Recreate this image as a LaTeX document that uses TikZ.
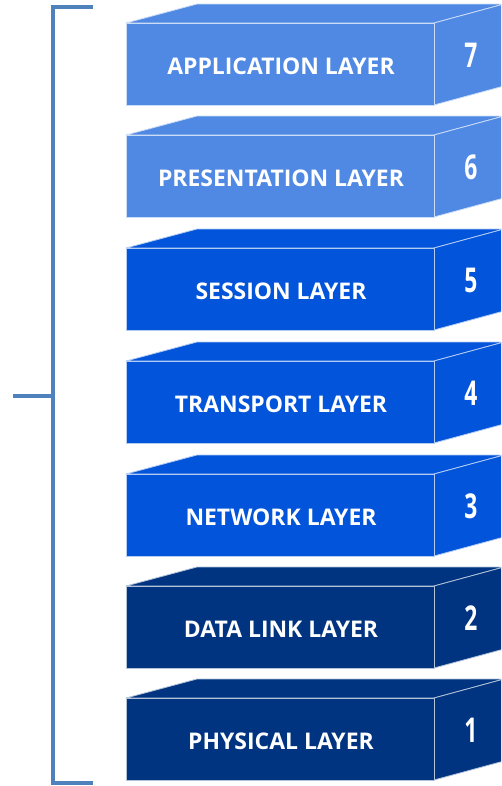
\documentclass[tikz,border=0pt]{standalone}
\usepackage{fontspec}
\setmainfont{Open Sans}

\definecolor{layerlight}{RGB}{80,137,228}
\definecolor{layermid}{RGB}{2,84,218}
\definecolor{layerdark}{RGB}{0,52,128}
\definecolor{bracketblue}{RGB}{79,129,189}

\tikzset{
  layerface/.style={fill=#1, draw=white!70!#1, line width=0.6pt, line join=round},
  layerlabel/.style={text=white, font=\bfseries\fontsize{17.2}{20}\selectfont},
  layernum/.style={text=white, font=\bfseries\fontsize{19}{22}\selectfont},
  bracket/.style={draw=bracketblue, line width=2.8pt}
}

\begin{document}
\begin{tikzpicture}[x=0.75pt, y=-0.75pt]
    \useasboundingbox (0,0) rectangle (501,786);
    \clip (0,0) rectangle (501,786);

    % Bracket on the left
    \coordinate (bracket top) at (93,7);
    \coordinate (bracket bottom) at (93,783);
    \coordinate (bracket tick) at (13,396);
    \draw[bracket] (bracket top) -- (53,7) -- (53,783) -- (bracket bottom);
    \draw[bracket] (bracket tick) -- (53,396);

    % Stack of layers, top of the front face given for each
    \foreach \n/\top/\name/\col in {
        7/23/APPLICATION LAYER/layerlight,
        6/135/PRESENTATION LAYER/layerlight,
        5/248/SESSION LAYER/layermid,
        4/361/TRANSPORT LAYER/layermid,
        3/474/NETWORK LAYER/layermid,
        2/586/DATA LINK LAYER/layerdark,
        1/698/PHYSICAL LAYER/layerdark} {
      % top face
      \draw[layerface=\col] (126,\top) -- (197,\top-19) -- (504,\top-19) -- (434,\top) -- cycle;
      % side face
      \draw[layerface=\col] (434,\top) -- (504,\top-19) -- (504,\top+63) -- (434,\top+82) -- cycle;
      % front face
      \draw[layerface=\col] (126,\top) rectangle (434,\top+82);
      \node[layerlabel] (label\n) at (281,\top+43) {\name};
      \node[layernum] (num\n) at (471,\top+32) {\scalebox{0.9}[1.35]{\n}};
    }
\end{tikzpicture}
\end{document}
